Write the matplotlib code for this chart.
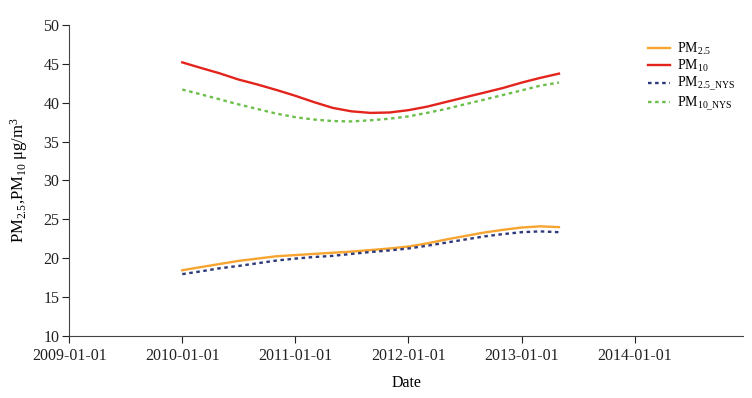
import matplotlib
matplotlib.use("Agg")
import matplotlib.pyplot as plt
import matplotlib.dates as mdates
import numpy as np

plt.rcParams["font.family"] = ["Liberation Serif", "DejaVu Serif"]
plt.rcParams["mathtext.fontset"] = "custom"
plt.rcParams["mathtext.rm"] = "Liberation Serif"
plt.rcParams["mathtext.it"] = "Liberation Serif:italic"

# --- data (every 2 months) ---
dates = np.arange(np.datetime64("2010-01"), np.datetime64("2013-06"),
                  np.timedelta64(2, "M")).astype("datetime64[D]")
pm25 = [18.45, 18.85, 19.25, 19.65, 19.95, 20.25, 20.4, 20.55, 20.7, 20.85, 21.05,
        21.25, 21.5, 21.9, 22.4, 22.85, 23.3, 23.65, 23.95, 24.1, 24.0]
pm10 = [45.2, 44.5, 43.8, 43.0, 42.35, 41.65, 40.9, 40.1, 39.35, 38.9, 38.7,
        38.75, 39.05, 39.5, 40.1, 40.7, 41.3, 41.9, 42.6, 43.2, 43.75]
pm25_nys = [17.95, 18.3, 18.7, 19.0, 19.35, 19.7, 19.95, 20.15, 20.3, 20.55, 20.8,
            21.0, 21.25, 21.6, 22.0, 22.4, 22.8, 23.1, 23.35, 23.45, 23.35]
pm10_nys = [41.7, 41.1, 40.45, 39.8, 39.2, 38.6, 38.15, 37.85, 37.65, 37.6, 37.75,
            37.95, 38.25, 38.7, 39.2, 39.8, 40.4, 41.0, 41.6, 42.2, 42.6]

tick_dates = np.array(["2009-01-01", "2010-01-01", "2011-01-01", "2012-01-01",
                       "2013-01-01", "2014-01-01"], dtype="datetime64[D]")

fig = plt.figure(figsize=(7.52, 3.98), dpi=100)
ax = fig.add_axes([0.092, 0.156, 0.896, 0.781])

ax.plot(dates, pm25, color="#f7a530", lw=1.7, label=r"PM$_{2.5}$")
ax.plot(dates, pm10, color="#e3241d", lw=1.7, label=r"PM$_{10}$")
ax.plot(dates, pm25_nys, color="#2e3a7a", lw=1.7, linestyle=(0, (1.5, 1.5)),
        label=r"PM$_{2.5\_\mathrm{NYS}}$")
ax.plot(dates, pm10_nys, color="#6cbf4a", lw=1.7, linestyle=(0, (1.5, 1.5)),
        label=r"PM$_{10\_\mathrm{NYS}}$")

ax.set_ylim(10, 50)
ax.set_yticks(range(10, 51, 5))
ax.set_xlim(np.datetime64("2009-01-01"), np.datetime64("2014-12-16"))
ax.set_xticks(tick_dates)
ax.xaxis.set_major_formatter(mdates.DateFormatter("%Y-%m-%d"))

for s in ["top", "right"]:
    ax.spines[s].set_visible(False)
for s in ["left", "bottom"]:
    ax.spines[s].set_color("#444444")
    ax.spines[s].set_linewidth(0.8)
ax.tick_params(colors="#222222", labelsize=11.5, length=5, width=0.8, pad=2)
ax.tick_params(axis="x", pad=4)

ax.set_xlabel("Date", fontsize=11.5)
ax.xaxis.set_label_coords(0.5, -0.125)
ax.set_ylabel(r"PM$_{2.5}$,PM$_{10}$ μg/m$^3$", fontsize=12)
ax.yaxis.set_label_coords(-0.058, 0.5)

ax.legend(loc="upper left", bbox_to_anchor=(0.859, 0.95), frameon=False,
          fontsize=10, handlelength=1.6, handletextpad=0.5, labelspacing=0.08,
          borderpad=0, borderaxespad=0)

plt.savefig("out.png", dpi=100)
plt.close()
